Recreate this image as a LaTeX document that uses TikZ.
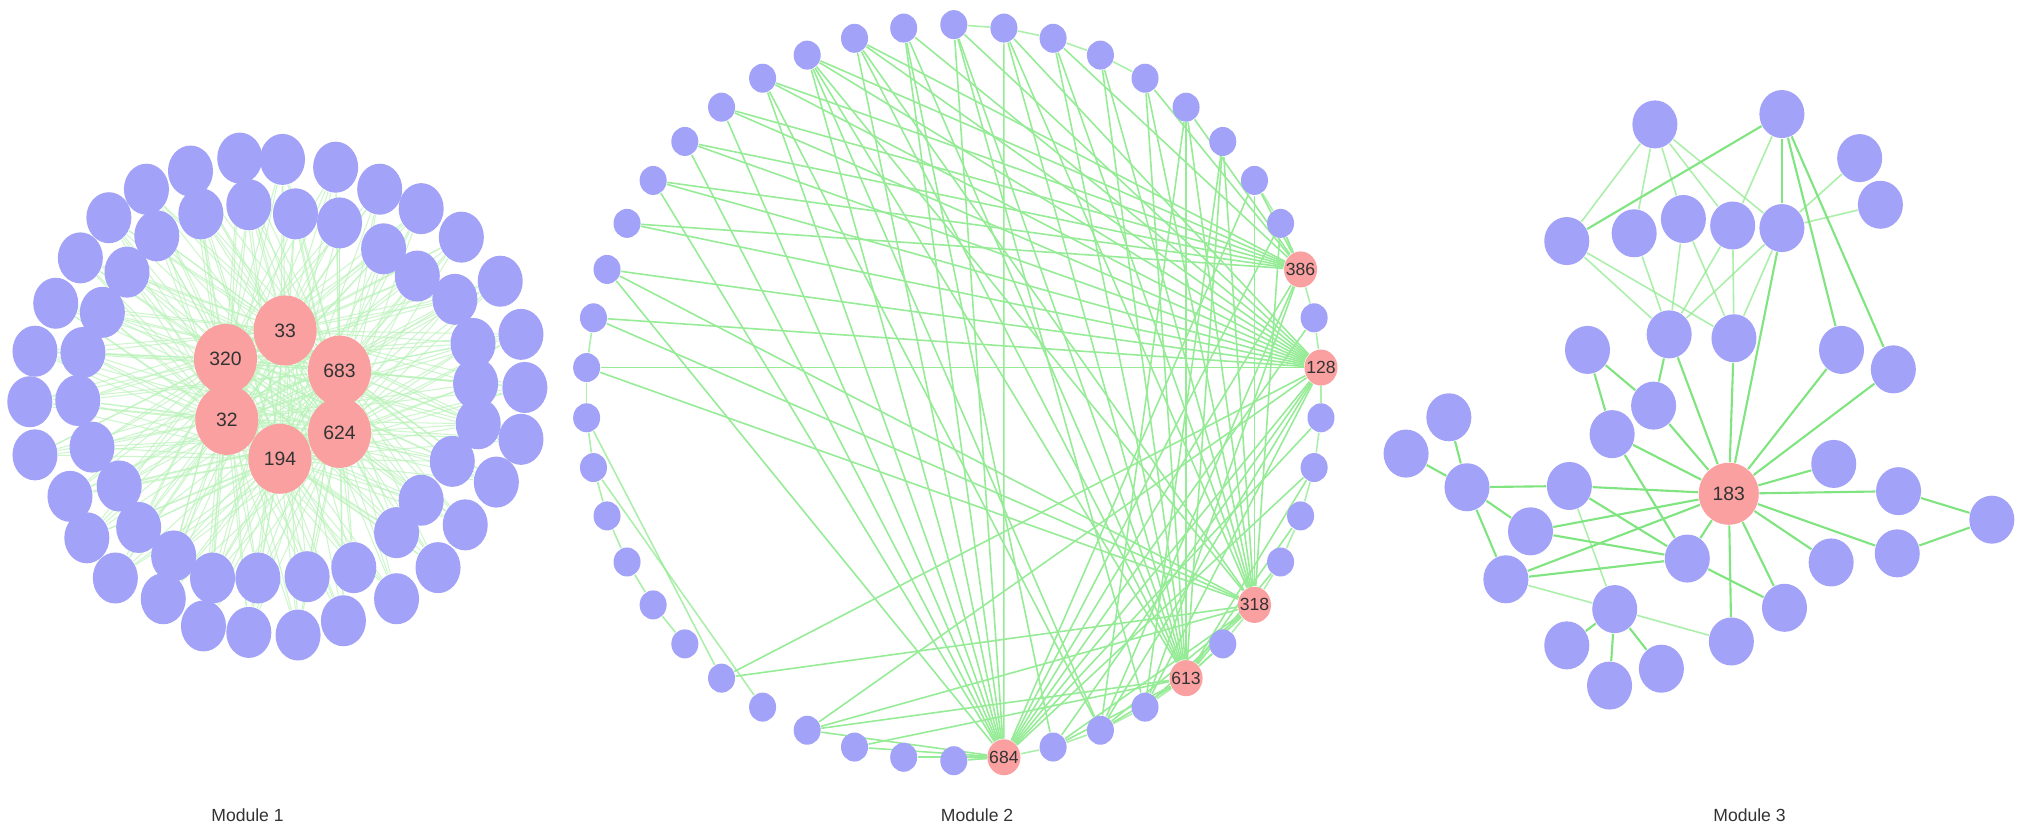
\documentclass[tikz,border=0pt]{standalone}
\usepackage{fontspec}
\setmainfont{Liberation Sans}
\usetikzlibrary{shapes.geometric,backgrounds}
\definecolor{nodeblue}{RGB}{162,162,248}
\definecolor{nodered}{RGB}{250,160,160}
\definecolor{edgeone}{RGB}{185,243,185}
\definecolor{edgetwo}{RGB}{150,236,150}
\definecolor{edgethree}{RGB}{128,228,128}
\tikzset{
  bluebig/.style={ellipse,fill=nodeblue,inner sep=0pt,minimum width=0.45cm,minimum height=0.51cm},
  redbig/.style={ellipse,fill=nodered,inner sep=0pt,minimum width=0.63cm,minimum height=0.7cm},
  bluesmall/.style={ellipse,fill=nodeblue,inner sep=0pt,minimum width=0.27cm,minimum height=0.29cm},
  redsmall/.style={ellipse,fill=nodered,inner sep=0pt,minimum width=0.33cm,minimum height=0.36cm},
  bluemid/.style={ellipse,fill=nodeblue,inner sep=0pt,minimum width=0.45cm,minimum height=0.48cm},
  redmid/.style={ellipse,fill=nodered,inner sep=0pt,minimum width=0.6cm,minimum height=0.62cm},
  hubtext/.style={font=\fontsize{5.5}{6}\selectfont,text=black!80,inner sep=0pt},
  hubsmall/.style={font=\fontsize{5}{6}\selectfont,text=black!80,inner sep=0pt},
  linkone/.style={draw=edgeone,line width=0.3pt,opacity=0.7},
  linktwo/.style={draw=edgetwo,line width=0.45pt},
  linkthree/.style={draw=edgethree,line width=0.6pt},
  linkfaint/.style={draw=edgetwo,line width=0.45pt,opacity=0.8},
  caption/.style={font=\fontsize{5}{6}\selectfont,text=black!80}
}
\begin{document}
\begin{tikzpicture}[x=0.01296cm,y=-0.01296cm]
\begin{pgfonlayer}{background}
\fill[white] (0,0) rectangle (1568,643);
\end{pgfonlayer}
\useasboundingbox (0,0) rectangle (1568,643);

\foreach \k/\x/\y in {1/185/122,2/218/123,3/259/129,4/293/146,5/325/161,6/356/183,7/386/217,8/402/258,9/405/299,10/402/339,
  11/383/372,12/359/405,13/338/438,14/306/462,15/265/479,16/230/490,17/192/488,18/157/483,19/126/462,20/89/446,
  21/67/415,22/54/383,23/27/351,24/23/310,25/27/271,26/43/234,27/62/199,28/84/168,29/113/146,30/147/132,
  31/192/158,32/228/165,33/262/172,34/296/192,35/322/213,36/351/231,37/365/265,38/367/296,39/369/327,40/349/356,
  41/325/386,42/306/411,43/273/438,44/237/445,45/199/446,46/164/446,47/134/429,48/107/407,49/92/375,50/71/345,
  51/60/309,52/64/272,53/79/241,54/98/210,55/121/182,56/155/165}
  \node[bluebig] (a\k) at (\x,\y) {};
\foreach \n/\x/\y in {33/220/255,320/174/277,683/262/286,32/175/324,624/262/334,194/216/354}
  \node[redbig,label={[hubtext]center:\n}] (r\n) at (\x,\y) {};
\begin{pgfonlayer}{background}
\foreach \r in {r33,r320,r683,r32,r624,r194}
  \foreach \k in {1,...,56}
    \draw[linkone] (\r) -- (a\k);
\end{pgfonlayer}

\begin{scope}[shift={(736,303)}]
\foreach \k in {1,2,3,4,5,6,7,8,9,11,13,14,15,16,18,20,21,22,24,25,26,27,28,29,30,31,32,33,34,35,36,37,38,39,40,41,42,43,44,45,46}
  \node[bluesmall] (b\k) at ({-90+(\k-1)*360/46}:284) {};
\foreach \k/\t in {10/386,12/128,17/318,19/613,23/684}
  \node[redsmall,label={[hubsmall]center:\t}] (b\k) at ({-90+(\k-1)*360/46}:284) {};
\end{scope}
\begin{pgfonlayer}{background}
\foreach \h/\tl in {23/{38,40,41,42,43,44,45,46,1,2,24,25,26,27,8,9,10,11,12,13,14},
  12/{36,37,38,39,40,41,42,43,44,45,46,1,2,20,21,22,27,29},
  10/{39,40,41,42,43,44,45,3,5,6,8,9,21,20},
  17/{2,3,4,5,6,7,8,9,36,37,38,44,45,29,27,21,22,20},
  19/{1,2,3,4,5,6,7,14,15,16,18,46,45,44,27,26,21,22},
  21/{43,44,6}, 22/{46}, 20/{1,7}}
  \foreach \t in \tl
    \draw[linktwo] (b\h) -- (b\t);
\foreach \a/\b in {1/2,2/3,3/4,4/5,8/9,9/10,10/11,11/12,12/13,13/14,14/15,15/16,16/17,17/18,18/19,19/20,20/21,21/22,22/23,23/24,
  36/37,35/36,34/35,33/34,32/33,31/32,30/31,29/35,28/34}
  \draw[linkfaint] (b\a) -- (b\b);
\end{pgfonlayer}

\foreach \k/\x/\y in {1/1277/96,2/1375/88,3/1435/122,4/1451/158,5/1209/186,6/1261/180,7/1299/169,8/1337/174,9/1375/176,
  10/1288/258,11/1338/261,12/1225/270,13/1421/270,14/1461/285,15/1276/313,16/1244/335,17/1118/322,18/1085/350,
  19/1132/376,20/1211/375,21/1415/358,22/1465/379,23/1537/401,24/1181/410,25/1302/431,26/1413/434,27/1464/427,
  28/1162/447,29/1377/469,30/1246/470,31/1336/495,32/1209/498,33/1282/516,34/1242/529}
  \node[bluemid] (c\k) at (\x,\y) {};
\node[redmid,label={[hubtext]center:183}] (h183) at (1334,381) {};
\begin{pgfonlayer}{background}
\foreach \a/\b in {1/5,1/6,1/7,1/8,1/9,2/8,3/9,4/9,5/10,5/11,6/10,7/10,7/11,8/10,8/11,9/10,9/11,
  20/30,28/30,30/31}
  \draw[linkfaint] (c\a) -- (c\b);
\foreach \a/\b in {2/5,2/9,2/13,2/14,10/15,12/15,12/16,16/25,17/19,18/19,19/20,19/24,19/28,20/25,24/25,28/25,
  22/23,27/23,25/29,30/32,30/33,30/34}
  \draw[linkthree] (c\a) -- (c\b);
\foreach \k in {9,10,11,13,14,15,16,20,24,28,21,22,26,27,29,31,25}
  \draw[linkthree] (h183) -- (c\k);
\end{pgfonlayer}

\node[caption] (cap1) at (191,629) {Module 1};
\node[caption] (cap2) at (754,629) {Module 2};
\node[caption] (cap3) at (1350,629) {Module 3};
\end{tikzpicture}
\end{document}
